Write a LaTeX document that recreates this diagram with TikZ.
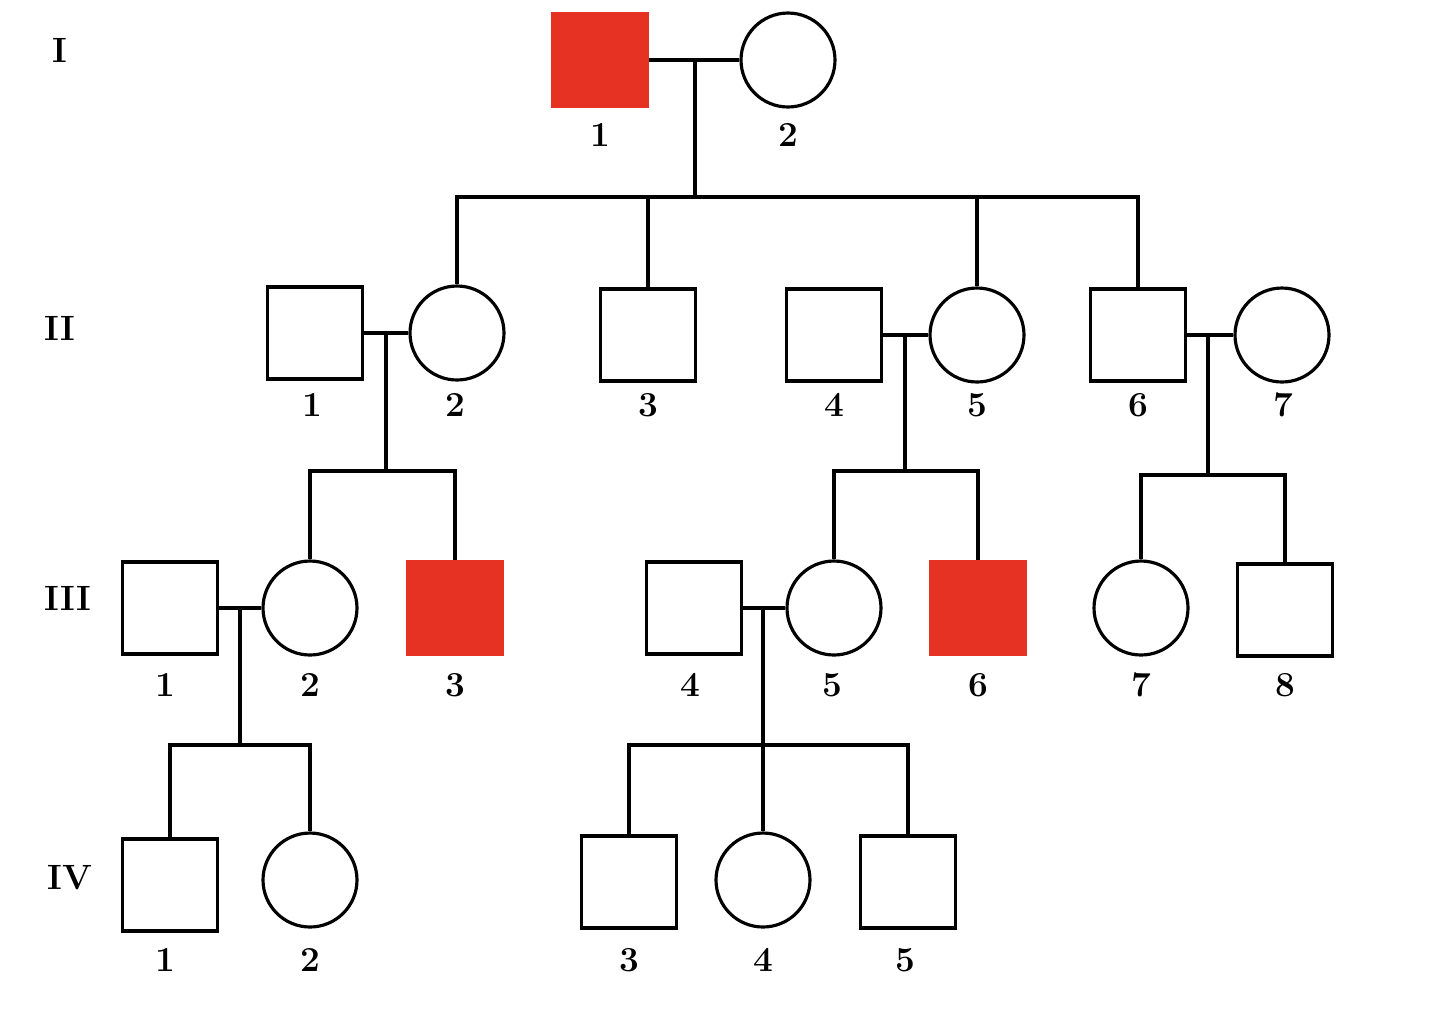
\documentclass[tikz,border=0pt]{standalone}
\usepackage{tikz}
\definecolor{affred}{RGB}{230,50,35}
\tikzset{
  male/.style={shape=rectangle, draw, minimum width=1.9cm, minimum height=1.84cm, inner sep=0pt},
  female/.style={shape=circle, draw, minimum size=1.88cm, inner sep=0pt},
  ill/.style={fill=affred, draw=affred},
  num/.style={font=\fontsize{20}{24}\selectfont\bfseries},
  gen/.style={font=\fontsize{20}{24}\selectfont\bfseries}
}
\begin{document}
\begin{tikzpicture}[x=0.02cm, y=-0.02cm, line width=1.8pt]
	\useasboundingbox (0,0) rectangle (1440,1019);
	% generation labels
	\node[gen] at (60,50) {I};
	\node[gen] at (60,328) {II};
	\node[gen] at (68,598) {III};
	\node[gen] at (70,878) {IV};
	% generation I
	\node[male, ill] (a1) at (600,60) {};
	\node[female] (a2) at (788,60) {};
	% generation II
	\node[male] (b1) at (315,333) {};
	\node[female] (b2) at (457,333) {};
	\node[male] (b3) at (648,335) {};
	\node[male] (b4) at (834,335) {};
	\node[female] (b5) at (977,335) {};
	\node[male] (b6) at (1138,335) {};
	\node[female] (b7) at (1282,335) {};
	% generation III
	\node[male] (c1) at (170,608) {};
	\node[female] (c2) at (310,608) {};
	\node[male, ill] (c3) at (455,608) {};
	\node[male] (c4) at (694,608) {};
	\node[female] (c5) at (834,608) {};
	\node[male, ill] (c6) at (978,608) {};
	\node[female] (c7) at (1141,608) {};
	\node[male] (c8) at (1285,610) {};
	% generation IV
	\node[male] (d1) at (170,885) {};
	\node[female] (d2) at (310,880) {};
	\node[male] (d3) at (629,882) {};
	\node[female] (d4) at (763,880) {};
	\node[male] (d5) at (908,882) {};
	% numbers
	\foreach \n/\x in {1/600,2/788} \node[num] at (\x,135) {\n};
	\foreach \n/\x in {1/312,2/455,3/648,4/834,5/977,6/1138,7/1283} \node[num] at (\x,405) {\n};
	\foreach \n/\x in {1/165,2/310,3/455,4/690,5/832,6/978,7/1141,8/1285} \node[num] at (\x,685) {\n};
	\foreach \n/\x in {1/165,2/310,3/629,4/763,5/905} \node[num] at (\x,960) {\n};
	% junctions
	\coordinate (m1) at (695,60);
	\coordinate (s1) at (695,197);
	\coordinate (m2) at (386,333);
	\coordinate (s2) at (386,471);
	\coordinate (m3) at (905,335);
	\coordinate (s3) at (905,471);
	\coordinate (m4) at (1208,335);
	\coordinate (s4) at (1208,475);
	\coordinate (m5) at (240,608);
	\coordinate (s5) at (240,745);
	\coordinate (m6) at (763,608);
	\coordinate (s6) at (763,745);
	% lines
	\draw (a1) -- (a2);
	\draw (m1) -- (s1);
	\draw (b2.north) |- (s1) -| (b6.north);
	\draw (b3.north) -- (b3.north |- s1);
	\draw (b5.north) -- (b5.north |- s1);
	\draw (b1) -- (b2);
	\draw (m2) -- (s2);
	\draw (c2.north) |- (s2) -| (c3.north);
	\draw (b4) -- (b5);
	\draw (m3) -- (s3);
	\draw (c5.north) |- (s3) -| (c6.north);
	\draw (b6) -- (b7);
	\draw (m4) -- (s4);
	\draw (c7.north) |- (s4) -| (c8.north);
	\draw (c1) -- (c2);
	\draw (m5) -- (s5);
	\draw (d1.north) |- (s5) -| (d2.north);
	\draw (c4) -- (c5);
	\draw (m6) -- (d4.north);
	\draw (d3.north) |- (s6) -| (d5.north);
\end{tikzpicture}
\end{document}
